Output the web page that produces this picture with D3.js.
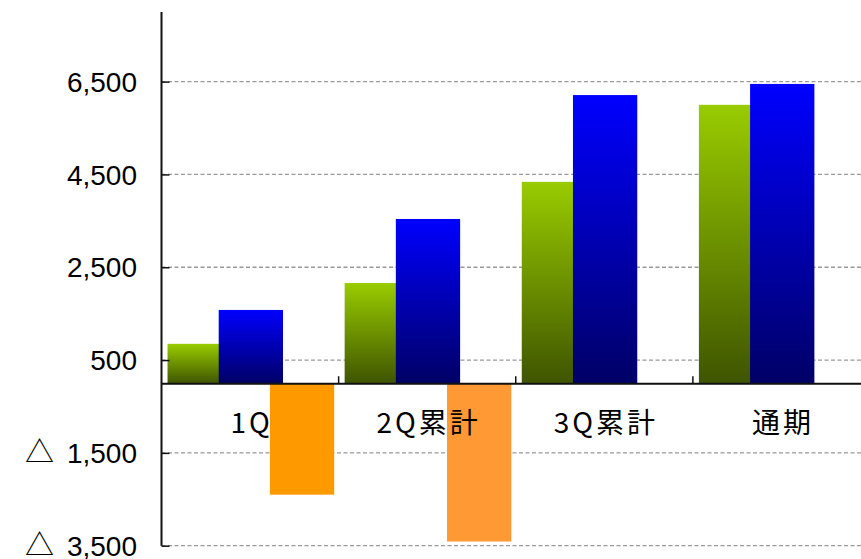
<!DOCTYPE html>
<html><head><meta charset="utf-8">
<script src="https://cdn.jsdelivr.net/npm/d3@7"></script>
<style>body{margin:0;background:#fff}svg{display:block}</style>
</head><body>
<script>
const categories = ["1Q", "2Q累計", "3Q累計", "通期"];
const seriesGreen = [850, 2160, 4340, 6000];
const seriesBlue = [1580, 3540, 6210, 6450];
const seriesOrange = [-2400, -3410, null, null];
const orangeColors = ["#FF9900", "#FF9933", "#FF9933", "#FF9933"];
const tickValues = [-3500, -1500, 500, 2500, 4500, 6500];

const W = 861, H = 559;
const svg = d3.select("body").append("svg").attr("width", W).attr("height", H);
const defs = svg.append("defs");
function grad(id, top, bottom) {
  const g = defs.append("linearGradient").attr("id", id).attr("x1", 0).attr("y1", 0).attr("x2", 0).attr("y2", 1);
  g.append("stop").attr("offset", "0%").attr("stop-color", top);
  g.append("stop").attr("offset", "100%").attr("stop-color", bottom);
}
grad("gGreen", "#99CC00", "#3F5500");
grad("gBlue", "#0000FF", "#000066");

const axisX = 161.5;
const y = d3.scaleLinear().domain([-3500, 8000]).range([545.7, 12]);
const x = d3.scaleBand().domain(categories).range([axisX, 870]).padding(0);
const bw = x.bandwidth();
const barW = bw * 0.363, pad = bw * 0.034, step = bw * 0.289;

// gridlines
svg.append("g").selectAll("line").data(tickValues).join("line")
  .attr("x1", axisX).attr("x2", W)
  .attr("y1", d => y(d)).attr("y2", d => y(d))
  .attr("stroke", "#999").attr("stroke-width", 1.3).attr("stroke-dasharray", "4,2.5");

// bars
function drawSeries(vals, idx, fill) {
  svg.append("g").selectAll("rect").data(categories.map((c, i) => ({c, v: vals[i], i})).filter(d => d.v != null))
    .join("rect")
    .attr("x", d => x(d.c) + pad + idx * step)
    .attr("width", barW)
    .attr("y", d => y(Math.max(0, d.v)))
    .attr("height", d => Math.abs(y(d.v) - y(0)))
    .attr("fill", typeof fill === "function" ? fill : () => fill);
}
drawSeries(seriesGreen, 0, "url(#gGreen)");
drawSeries(seriesBlue, 1, "url(#gBlue)");
drawSeries(seriesOrange, 2, d => orangeColors[d.i]);

// y axis
const fmt = d3.format(",");
const yAxis = d3.axisRight(y).tickValues(tickValues).tickSize(8).tickFormat("");
const ya = svg.append("g").attr("transform", `translate(${axisX},0)`).call(yAxis);
ya.select(".domain").attr("stroke", "#111").attr("stroke-width", 2).attr("d", `M0,${y(8000)}V${y(-3500)}`);
ya.selectAll(".tick line").attr("stroke", "#111").attr("stroke-width", 1.5);

const yl = svg.append("g").selectAll("text").data(tickValues).join("text")
  .attr("x", 137).attr("y", d => y(d)).attr("dy", "0.36em")
  .attr("text-anchor", "end")
  .attr("font-family", "Liberation Sans, Arial, sans-serif").attr("font-size", 28)
  .attr("fill", "#000");
yl.filter(d => d < 0).append("tspan")
  .attr("font-family", "Noto Sans CJK JP, sans-serif").attr("font-size", 29)
  .text("△");
yl.append("tspan").attr("dx", d => d < 0 ? 13 : 0).text(d => fmt(Math.abs(d)));

// x axis at zero
const xAxis = d3.axisTop(x).tickSize(0).tickFormat("");
const xa = svg.append("g").attr("transform", `translate(0,${y(0)})`).call(xAxis);
xa.select(".domain").attr("stroke", "#111").attr("stroke-width", 2);
xa.selectAll(".tick").remove();
svg.append("g").selectAll("line").data(categories.slice(1)).join("line")
  .attr("x1", d => x(d)).attr("x2", d => x(d))
  .attr("y1", y(0) - 7).attr("y2", y(0))
  .attr("stroke", "#111").attr("stroke-width", 1.5);

svg.append("g").selectAll("text").data(categories).join("text")
  .attr("x", d => x(d) + bw / 2 + 1.5).attr("y", 433)
  .attr("text-anchor", "middle")
  .attr("font-family", "Noto Sans CJK JP, sans-serif").attr("font-size", 28)
  .attr("letter-spacing", 3)
  .attr("fill", "#000")
  .text(d => d);
</script>
</body></html>
